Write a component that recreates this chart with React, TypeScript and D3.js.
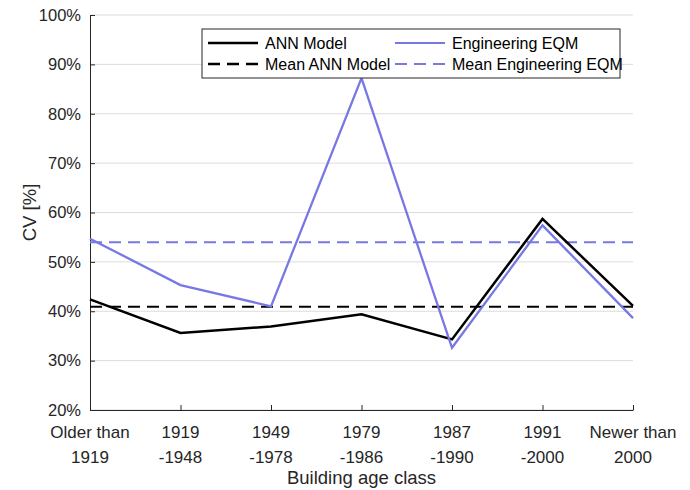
import React, { useEffect, useRef } from "react";
import * as d3 from "d3";

// Building age classes (two-line labels)
const categories = [
  ["Older than", "1919"],
  ["1919", "-1948"],
  ["1949", "-1978"],
  ["1979", "-1986"],
  ["1987", "-1990"],
  ["1991", "-2000"],
  ["Newer than", "2000"],
];

const annModel = [42.4, 35.6, 36.9, 39.4, 34.3, 58.7, 41.1];
const engineeringEqm = [54.7, 45.3, 41.0, 87.2, 32.6, 57.4, 38.6];
const meanAnn = 40.9;
const meanEqm = 54.0;

const yTicks = [20, 30, 40, 50, 60, 70, 80, 90, 100];

const BLUE = "#7878e4";
const FONT = "'Liberation Sans', Arial, sans-serif";

const App = () => {
  const svgRef = useRef<SVGSVGElement | null>(null);

  useEffect(() => {
    const width = 690;
    const height = 490;
    const margin = { left: 90, right: 57, top: 15, bottom: 80 };

    const svg = d3.select(svgRef.current);
    svg.selectAll("*").remove();
    svg.attr("width", width).attr("height", height);

    const x = d3
      .scalePoint<number>()
      .domain(d3.range(categories.length))
      .range([margin.left, width - margin.right]);
    const y = d3
      .scaleLinear()
      .domain([20, 100])
      .range([height - margin.bottom, margin.top]);

    const g = svg.append("g").style("font-family", FONT);

    // horizontal grid
    g.selectAll("line.grid")
      .data(yTicks)
      .enter()
      .append("line")
      .attr("class", "grid")
      .attr("x1", margin.left)
      .attr("x2", width - margin.right)
      .attr("y1", (d) => y(d))
      .attr("y2", (d) => y(d))
      .attr("stroke", "#dcdcdc")
      .attr("stroke-width", 1);

    // y axis
    const yAxis = g
      .append("g")
      .attr("transform", `translate(${margin.left},0)`)
      .call(
        d3
          .axisLeft(y)
          .tickValues(yTicks)
          .tickSizeInner(-5)
          .tickSizeOuter(0)
          .tickPadding(9)
          .tickFormat((d) => `${d}%`)
      );
    yAxis.select(".domain").attr("stroke", "#262626");
    yAxis.selectAll(".tick line").attr("stroke", "#262626");
    yAxis
      .selectAll(".tick text")
      .attr("fill", "#262626")
      .style("font-size", "16.5px")
      .style("font-family", FONT);

    // x axis
    const xAxis = g
      .append("g")
      .attr("transform", `translate(0,${height - margin.bottom})`)
      .call(d3.axisBottom(x).tickSizeInner(-5).tickSizeOuter(0).tickFormat(() => ""));
    xAxis.select(".domain").attr("stroke", "#262626");
    xAxis.selectAll(".tick line").attr("stroke", "#262626");

    // x tick labels (two lines)
    categories.forEach((lines, i) => {
      lines.forEach((t, j) => {
        g.append("text")
          .attr("x", x(i)!)
          .attr("y", height - margin.bottom + 28 + j * 25)
          .attr("text-anchor", "middle")
          .attr("fill", "#262626")
          .style("font-size", "17px")
          .text(t);
      });
    });

    // axis titles
    g.append("text")
      .attr("x", (margin.left + width - margin.right) / 2)
      .attr("y", 484)
      .attr("text-anchor", "middle")
      .attr("fill", "#262626")
      .style("font-size", "18.5px")
      .text("Building age class");
    g.append("text")
      .attr("transform", `translate(36,${(margin.top + height - margin.bottom) / 2}) rotate(-90)`)
      .attr("text-anchor", "middle")
      .attr("fill", "#262626")
      .style("font-size", "18.5px")
      .text("CV [%]");

    const line = d3
      .line<number>()
      .x((_, i) => x(i)!)
      .y((d) => y(d));

    // mean lines
    g.append("line")
      .attr("x1", margin.left)
      .attr("x2", width - margin.right)
      .attr("y1", y(meanAnn))
      .attr("y2", y(meanAnn))
      .attr("stroke", "#000")
      .attr("stroke-width", 2)
      .attr("stroke-dasharray", "12,7");
    g.append("line")
      .attr("x1", margin.left)
      .attr("x2", width - margin.right)
      .attr("y1", y(meanEqm))
      .attr("y2", y(meanEqm))
      .attr("stroke", BLUE)
      .attr("stroke-width", 2)
      .attr("stroke-dasharray", "12,7");

    g.append("path")
      .datum(annModel)
      .attr("d", line)
      .attr("fill", "none")
      .attr("stroke", "#000")
      .attr("stroke-width", 2.5);
    g.append("path")
      .datum(engineeringEqm)
      .attr("d", line)
      .attr("fill", "none")
      .attr("stroke", BLUE)
      .attr("stroke-width", 2.3);

    // legend
    const leg = g.append("g").attr("transform", "translate(202,29)");
    leg
      .append("rect")
      .attr("width", 418)
      .attr("height", 49)
      .attr("fill", "#fff")
      .attr("stroke", "#262626")
      .attr("stroke-width", 1);
    const items = [
      { label: "ANN Model", color: "#000", dash: null, col: 0, row: 0 },
      { label: "Engineering EQM", color: BLUE, dash: null, col: 1, row: 0 },
      { label: "Mean ANN Model", color: "#000", dash: "12,7", col: 0, row: 1 },
      { label: "Mean Engineering EQM", color: BLUE, dash: "12,7", col: 1, row: 1 },
    ];
    items.forEach((it) => {
      const ox = it.col === 0 ? 6 : 193;
      const oy = it.row === 0 ? 14 : 35;
      leg
        .append("line")
        .attr("x1", ox)
        .attr("x2", ox + 50)
        .attr("y1", oy)
        .attr("y2", oy)
        .attr("stroke", it.color)
        .attr("stroke-width", it.color === "#000" ? 2.5 : 2)
        .attr("stroke-dasharray", it.dash);
      leg
        .append("text")
        .attr("x", ox + 57)
        .attr("y", oy + 5.5)
        .attr("fill", "#000")
        .style("font-size", "16px")
        .text(it.label);
    });
  }, []);

  return (
    <div style={{ position: "absolute", left: 0, top: 0 }}>
      <svg ref={svgRef} style={{ display: "block", background: "#fff" }} />
    </div>
  );
};

export default App;
